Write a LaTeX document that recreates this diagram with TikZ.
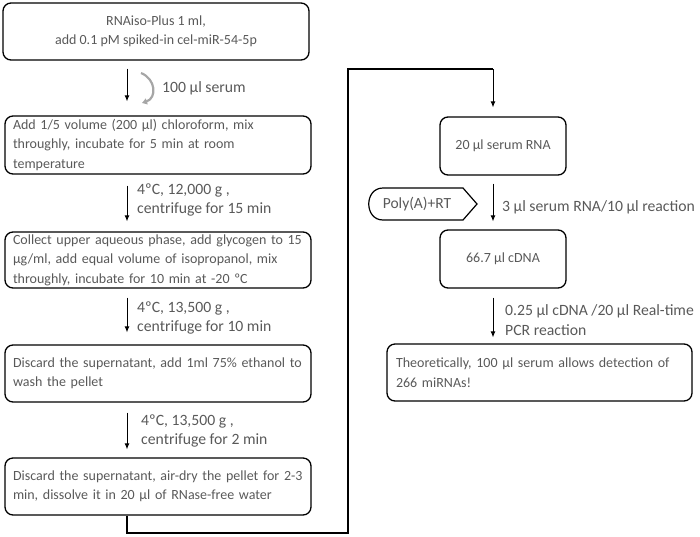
\documentclass[tikz,border=0pt]{standalone}
\usepackage{fontspec}
\setmainfont{Carlito}
\usetikzlibrary{arrows.meta,calc}
\definecolor{txt}{HTML}{595959}
\tikzset{
  box/.style={draw=black, line width=1.3pt, rounded corners=8pt, text=txt, inner sep=0pt, font=\fontsize{14}{19.5}\selectfont},
  lbox/.style={box, align=left, text width=290pt},
  arr/.style={line width=0.9pt, -{Latex[length=6pt,width=5pt]}},
  lab/.style={text=txt, anchor=west, align=left, inner sep=0pt, font=\fontsize{15.7}{19.5}\selectfont},
}
\begin{document}
\begin{tikzpicture}[x=1pt,y=-1pt]
\useasboundingbox (0,0) rectangle (700,536);
% left column
\node[box, align=center, minimum width=306pt, minimum height=57pt] (b1) at (156,31.5) {RNAiso-Plus 1 ml,\\add 0.1 pM spiked-in cel-miR-54-5p};
\node[lbox, minimum width=306pt, minimum height=58pt] (b2) at (158,145) {Add 1/5 volume (200 µl) chloroform, mix\\throughly, incubate for 5 min at room\\temperature};
\node[lbox, minimum width=306pt, minimum height=56pt] (b3) at (158,260) {Collect upper aqueous phase, add glycogen to 15\\µg/ml, add equal volume of isopropanol, mix\\throughly, incubate for 10 min at -20 ºC};
\node[lbox, minimum width=306pt, minimum height=57pt] (b4) at (158,373.5) {Discard the supernatant, add 1ml 75\% ethanol to\\wash the pellet};
\node[lbox, minimum width=306pt, minimum height=57pt] (b5) at (158,486.5) {Discard the supernatant, air-dry the pellet for 2-3\\min, dissolve it in 20 µl of RNase-free water};
% right column
\node[box, align=center, minimum width=126pt, minimum height=58pt] (b6) at (503,146) {20 µl serum RNA};
\node[box, align=center, minimum width=126pt, minimum height=58pt] (b7) at (503,259) {66.7 µl cDNA};
\node[lbox, text width=287pt, minimum width=305pt, minimum height=57pt] (b8) at (539.5,372.5) {Theoretically, 100 µl serum allows detection of\\266 miRNAs!};
% arrow axes
\coordinate (ax) at (127,0);
\coordinate (bx) at (493,0);
\draw[arr, shorten <=8pt, shorten >=14pt] (b1.south -| ax) -- (b2.north -| ax);
\draw[arr, shorten <=11pt, shorten >=10pt] (b2.south -| ax) -- (b3.north -| ax);
\draw[arr, shorten <=9pt, shorten >=12pt] (b3.south -| ax) -- (b4.north -| ax);
\draw[arr, shorten <=10pt, shorten >=8pt] (b4.south -| ax) -- (b5.north -| ax);
\draw[arr, shorten <=8pt, shorten >=8pt] (b6.south -| bx) -- (b7.north -| bx);
\draw[arr, shorten <=9pt, shorten >=6pt] (b7.south -| bx) -- (b8.north -| bx);
% long connector
\coordinate (c1) at (127,533);
\coordinate (c2) at (348,533);
\coordinate (c3) at (348,69);
\coordinate (c4) at (493,69);
\draw[line width=1.2pt] (b5.south -| ax) -- (c1) -- (c2) -- (c3) -- (c4) -- (bx |- c4);
\draw[arr, shorten >=9pt] (c4) -- (b6.north -| bx);
% curved gray arrow
\coordinate (g1) at (141,73);
\coordinate (g2) at (142,103);
\draw[gray!70, line width=2.2pt, -{Triangle[length=5pt,width=6pt]}] (g1) .. controls (156,79) and (157,98) .. (g2);
% labels
\node[lab] (l1) at (162,88) {100 µl serum};
\node[lab] (l2) at (137,200) {4ºC, 12,000 g ,\\centrifuge for 15 min};
\node[lab] (l3) at (137,318) {4ºC, 13,500 g ,\\centrifuge for 10 min};
\node[lab] (l4) at (141,431) {4ºC, 13,500 g ,\\centrifuge for 2 min};
\node[lab] (l5) at (502,207) {3 µl serum RNA/10 µl reaction};
\node[lab] (l6) at (505,320) {0.25 µl cDNA /20 µl Real-time\\PCR reaction};
% Poly(A)+RT display shape
\node[text=txt, inner sep=0pt, font=\fontsize{15.5}{17}\selectfont] (poly) at (417,204) {Poly(A)+RT};
\draw[line width=1.2pt] (383,188) -- (463,188) -- (477,204) -- (463,220) -- (383,220) .. controls (364,220) and (364,188) .. (383,188) -- cycle;
\end{tikzpicture}
\end{document}
